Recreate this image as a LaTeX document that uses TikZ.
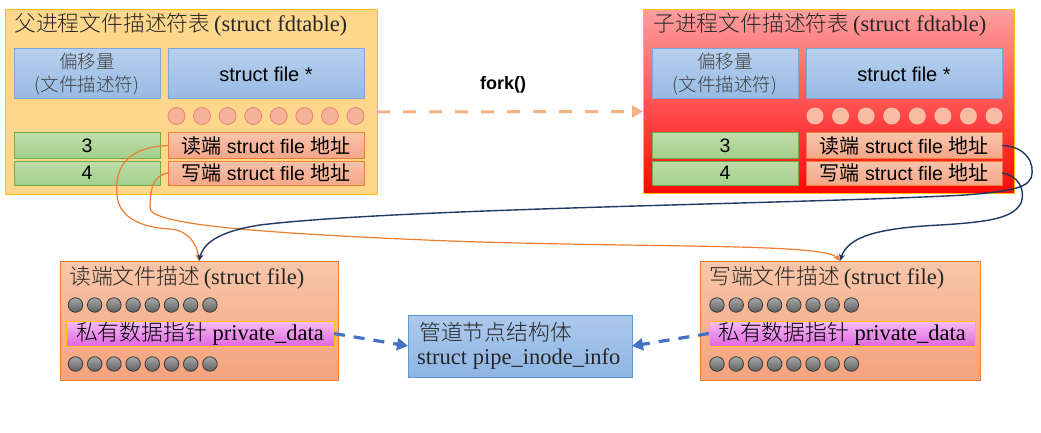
\documentclass[tikz,border=0pt]{standalone}
\usepackage{fontspec}
\setmainfont{Liberation Serif}
\newfontfamily\cjk{Noto Sans CJK SC Light}
\newfontfamily\cjkr{Noto Sans CJK SC}
\newfontfamily\arial{Liberation Sans}
\usetikzlibrary{arrows.meta,calc}
\definecolor{parentfill}{HTML}{FFD78C}
\definecolor{parentedge}{HTML}{FFC000}
\definecolor{childtop}{HTML}{FF9E9E}
\definecolor{childbot}{HTML}{FF0808}
\definecolor{bluetop}{HTML}{B7D0EE}
\definecolor{bluebot}{HTML}{97BAE4}
\definecolor{blueedge}{HTML}{7EA6D8}
\definecolor{greentop}{HTML}{BDDDAA}
\definecolor{greenbot}{HTML}{A3CF8C}
\definecolor{greenedge}{HTML}{70AD47}
\definecolor{addrtop}{HTML}{F9C4AC}
\definecolor{addrbot}{HTML}{F4A688}
\definecolor{orangeedge}{HTML}{ED7D31}
\definecolor{pcircfill}{HTML}{F4B29A}
\definecolor{pcircedge}{HTML}{E9866A}
\definecolor{ccircfill}{HTML}{F7BCA3}
\definecolor{filetop}{HTML}{F8C6AA}
\definecolor{filebot}{HTML}{F4A27D}
\definecolor{graytop}{HTML}{A8A8A8}
\definecolor{graybot}{HTML}{606060}
\definecolor{grayedge}{HTML}{3A3A3A}
\definecolor{purptop}{HTML}{F6BCF6}
\definecolor{purpbot}{HTML}{E066E0}
\definecolor{pipetop}{HTML}{ADC9EC}
\definecolor{pipebot}{HTML}{8EB5E3}
\definecolor{pipeedge}{HTML}{5B9BD5}
\definecolor{navy}{HTML}{1F3864}
\definecolor{dashblue}{HTML}{4472C4}
\definecolor{forkcol}{HTML}{F4B183}
\definecolor{txtgray}{HTML}{404040}
\newcommand\szTitle{\fontsize{22.5}{26}\selectfont}
\newcommand\ckT[1]{{\cjk\fontsize{21.8}{26}\selectfont #1}}
\newcommand\ckA[1]{{\cjkr\fontsize{20}{22}\selectfont #1}}
\newcommand\szArial{\fontsize{19.5}{22}\selectfont}
\newcommand\szOff{\fontsize{18.5}{23}\selectfont}
\tikzset{
  panel/.style={anchor=north west, inner sep=0pt, outer sep=0pt},
  bluebox/.style={panel, draw=blueedge, line width=1pt, top color=bluetop, bottom color=bluebot},
  greenbox/.style={panel, draw=greenedge, line width=1pt, top color=greentop, bottom color=greenbot, font=\arial\szArial},
  addrbox/.style={panel, draw=orangeedge, line width=1pt, top color=addrtop, bottom color=addrbot, font=\arial\szArial},
  filebox/.style={panel, draw=orangeedge, line width=1pt, top color=filetop, bottom color=filebot},
  purpbox/.style={panel, draw=parentedge, line width=1pt, top color=purptop, bottom color=purpbot, font=\szTitle},
  pcirc/.style={circle, inner sep=0pt, minimum size=17pt, draw=pcircedge, line width=0.8pt, fill=pcircfill},
  ccirc/.style={circle, inner sep=0pt, minimum size=17pt, fill=ccircfill},
  gcirc/.style={circle, inner sep=0pt, minimum size=14.5pt, draw=grayedge, line width=0.8pt, top color=graytop, bottom color=graybot},
  titletext/.style={anchor=west, inner sep=0pt, font=\szTitle, text=black!85},
  ocurve/.style={draw=orangeedge, line width=1.2pt, -{Stealth[length=7pt,width=6pt]}},
  ncurve/.style={draw=navy, line width=1.4pt, -{Stealth[length=7pt,width=6pt]}},
  bluedash/.style={draw=dashblue, line width=3.2pt, dash pattern=on 11pt off 9pt, -{Triangle[length=11pt,width=12pt]}},
  forkdash/.style={draw=forkcol, line width=3pt, dash pattern=on 13pt off 13pt, -{Triangle[length=11pt,width=12pt]}},
}
\begin{document}
\begin{tikzpicture}[x=1pt,y=-1pt]
\useasboundingbox (0,0) rectangle (1041,433);
% parent table
\node[panel, draw=parentedge, line width=1pt, fill=parentfill, minimum width=372pt, minimum height=184pt] (parent) at (5,10) {};
\node[titletext] (ptitle) at (14,25) {\ckT{父进程文件描述符表}\,(struct fdtable)};
\node[bluebox, minimum width=146pt, minimum height=50pt, align=center, font=\cjk\szOff, text=txtgray] (poff) at (14,49) {偏移量\\(文件描述符)};
\node[bluebox, minimum width=196pt, minimum height=50pt, font=\arial\fontsize{20}{24}\selectfont] (pfile) at (168,49) {struct file *};
\foreach \i in {0,...,7} \node[pcirc] (pc\i) at (176.5+25.57*\i,116) {};
\node[greenbox, minimum width=146pt, minimum height=25pt] (p3) at (14,133) {3};
\node[addrbox, minimum width=196pt, minimum height=25pt] (p3r) at (168,133) {\ckA{读端} struct file \ckA{地址}};
\node[greenbox, minimum width=146pt, minimum height=24pt] (p4) at (14,161) {4};
\node[addrbox, minimum width=196pt, minimum height=24pt] (p4w) at (168,161) {\ckA{写端} struct file \ckA{地址}};
% child table
\node[panel, draw=parentedge, line width=1pt, top color=childtop, bottom color=childbot, minimum width=371pt, minimum height=183pt] (child) at (643,10) {};
\node[titletext] (ctitle) at (653,25) {\ckT{子进程文件描述符表}\,(struct fdtable)};
\node[bluebox, minimum width=146pt, minimum height=50pt, align=center, font=\cjk\szOff, text=txtgray] (coff) at (652,49) {偏移量\\(文件描述符)};
\node[bluebox, minimum width=196pt, minimum height=50pt, font=\arial\fontsize{20}{24}\selectfont] (cfile) at (806,49) {struct file *};
\foreach \i in {0,...,7} \node[ccirc] (cc\i) at (815+25.57*\i,116) {};
\node[greenbox, minimum width=146pt, minimum height=25pt] (c3) at (652,133) {3};
\node[addrbox, minimum width=196pt, minimum height=25pt] (c3r) at (806,133) {\ckA{读端} struct file \ckA{地址}};
\node[greenbox, minimum width=146pt, minimum height=24pt] (c4) at (652,161) {4};
\node[addrbox, minimum width=196pt, minimum height=24pt] (c4w) at (806,161) {\ckA{写端} struct file \ckA{地址}};
% fork
\node[font=\arial\bfseries\fontsize{18}{22}\selectfont, inner sep=0pt] (forklbl) at (503,85) {fork()};
\draw[forkdash] ([yshift=-10pt]parent.east) -- ([yshift=-10pt]child.west);
% bottom left file
\node[filebox, minimum width=278pt, minimum height=119pt] (lfile) at (60,261) {};
\node[titletext] (ltitle) at (69,278) {\ckT{读端文件描述}\,(struct file)};
\foreach \i in {0,...,7} \node[gcirc] (lg\i) at (75.5+19.2*\i,305) {};
\node[purpbox, minimum width=268pt, minimum height=25pt] (lpriv) at (66,321) {\ckT{私有数据指针} private\_data};
\foreach \i in {0,...,7} \node[gcirc] (lh\i) at (75.5+19.2*\i,364) {};
% bottom right file
\node[filebox, minimum width=280pt, minimum height=119pt] (rfile) at (700,261) {};
\node[titletext] (rtitle) at (709,278) {\ckT{写端文件描述}\,(struct file)};
\foreach \i in {0,...,7} \node[gcirc] (rg\i) at (717+19.2*\i,305) {};
\node[purpbox, minimum width=266pt, minimum height=25pt] (rpriv) at (709,321) {\ckT{私有数据指针} private\_data};
\foreach \i in {0,...,7} \node[gcirc] (rh\i) at (717+19.2*\i,364) {};
% pipe inode
\node[panel, draw=pipeedge, line width=1pt, top color=pipetop, bottom color=pipebot, minimum width=224pt, minimum height=62pt] (pipe) at (408,315) {};
\node[titletext] (pipet1) at (419,332) {\ckT{管道节点结构体}};
\node[titletext] (pipet2) at (417,359) {struct pipe\_inode\_info};
% dashed arrows to pipe
\draw[bluedash] (lpriv.east) -- (pipe.west);
\draw[bluedash] (rpriv.west) -- (pipe.east);
% orange curves (parent)
\draw[ocurve] (p3r.west) .. controls (130,147) and (114,165) .. (117,195)
   .. controls (119,222) and (150,228) .. (170,229)
   .. controls (188,230) and (197,244) .. (lfile.north);
\draw[ocurve] (p4w.west) .. controls (152,175) and (150,192) .. (150,208)
   .. controls (150,224) and (250,233) .. (450,241)
   .. controls (650,248) and (825,243) .. (rfile.north);
% navy curves (child)
\draw[ncurve] (c3r.east) .. controls (1025,146) and (1036,163) .. (1031,178)
   .. controls (1026,190) and (1000,192) .. (965,195)
   .. controls (800,204) and (400,208) .. (260,225)
   .. controls (215,232) and (203,245) .. (lfile.north);
\draw[ncurve] (c4w.east) .. controls (1018,175) and (1026,190) .. (1021,203)
   .. controls (1013,218) and (990,222) .. (940,225)
   .. controls (880,228) and (848,236) .. (rfile.north);
\end{tikzpicture}
\end{document}
